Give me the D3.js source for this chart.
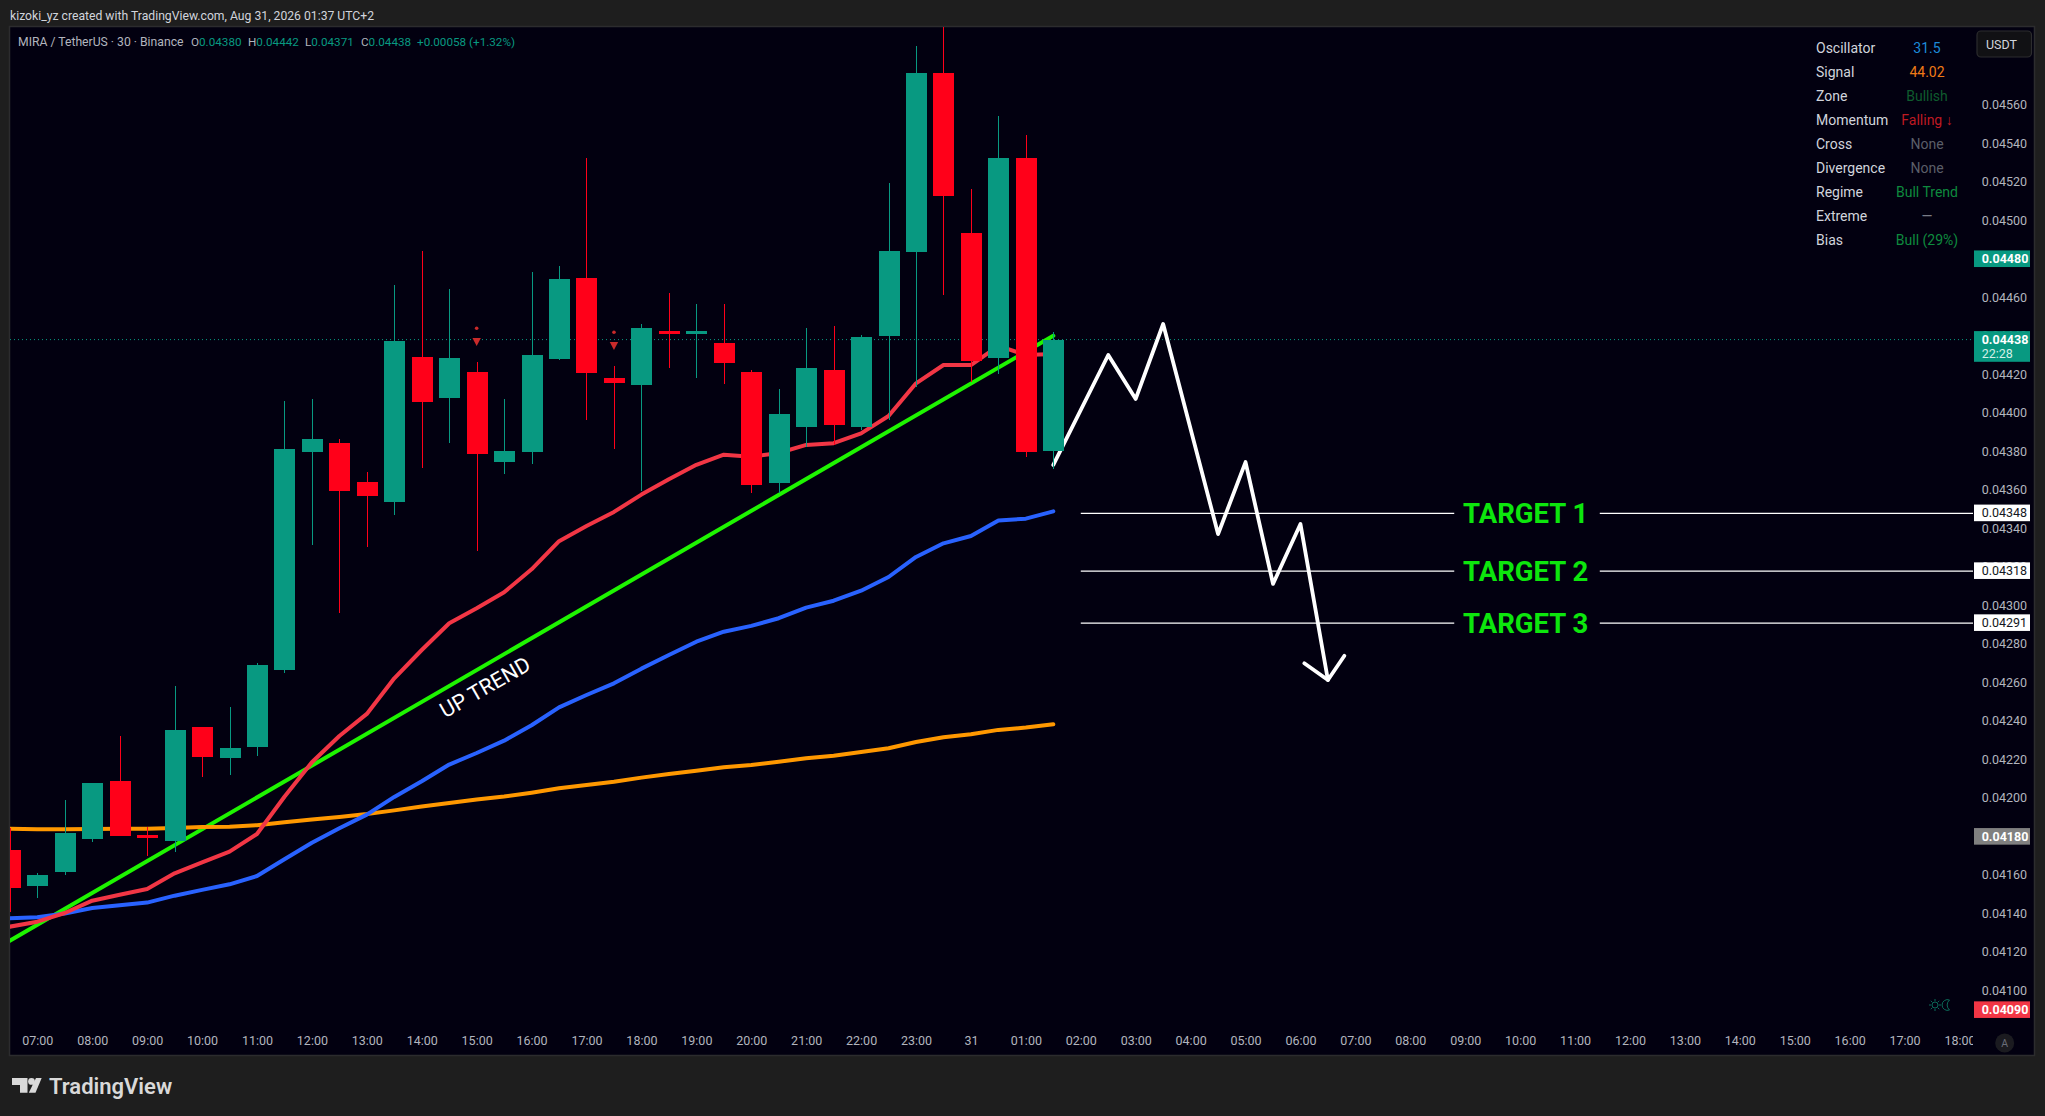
<!DOCTYPE html>
<html>
<head>
<meta charset="utf-8">
<script src="https://cdn.jsdelivr.net/npm/d3@7"></script>
<style>
  html, body { margin: 0; padding: 0; background: #1e1e1e; }
  svg { display: block; }
  text { font-family: Roboto, "Noto Sans", sans-serif; }
</style>
</head>
<body>
<script>
// half hour bars, index 0 = 07:00
const firstBar = -1;
const opens = [0.041729,0.041544,0.041615,0.041786,0.042088,0.041807,0.041776,0.042368,0.042207,0.042264,0.042664,0.043796,0.043843,0.043641,0.043537,0.044290,0.044077,0.044212,0.043744,0.043796,0.044279,0.044700,0.044181,0.044144,0.044425,0.044409,0.044362,0.044212,0.043635,0.043926,0.044222,0.043926,0.044399,0.044835,0.045765,0.044934,0.044285,0.045323,0.04380];
const highs = [0.041844,0.041608,0.041989,0.042077,0.042321,0.041850,0.042581,0.042368,0.042470,0.042701,0.044061,0.044072,0.043864,0.043692,0.044664,0.044840,0.044643,0.044264,0.044072,0.044731,0.044762,0.045323,0.044243,0.044461,0.044622,0.044565,0.044565,0.044222,0.044124,0.044440,0.044451,0.044404,0.045193,0.045905,0.046020,0.045162,0.045541,0.045443,0.04442];
const lows = [0.041409,0.041482,0.041601,0.041772,0.041802,0.041700,0.041721,0.042108,0.042120,0.042219,0.042649,0.043313,0.042960,0.043303,0.043469,0.043713,0.043843,0.043282,0.043682,0.043734,0.044274,0.043963,0.043812,0.043594,0.044233,0.044181,0.044149,0.043583,0.043583,0.043822,0.043833,0.043911,0.043963,0.044134,0.044612,0.044160,0.044201,0.043770,0.04371];
const closes = [0.041534,0.041600,0.041818,0.042077,0.041802,0.041793,0.042353,0.042212,0.042259,0.042690,0.043812,0.043864,0.043594,0.043568,0.044373,0.044056,0.044285,0.043786,0.043802,0.044300,0.044695,0.044207,0.044155,0.044440,0.044409,0.044425,0.044259,0.043625,0.043994,0.044233,0.043937,0.044394,0.044840,0.045765,0.045126,0.044269,0.045323,0.043796,0.04438];

const maFast = [0.041331,0.041357,0.041402,0.041466,0.041497,0.041527,0.041608,0.041665,0.041721,0.041812,0.042006,0.042185,0.042321,0.042436,0.042621,0.042768,0.042907,0.042985,0.043068,0.043187,0.043333,0.043412,0.043485,0.043575,0.043655,0.043730,0.043782,0.043772,0.043791,0.043833,0.043842,0.043893,0.043983,0.044153,0.044248,0.044248,0.044347,0.044300,0.044305];
const maMid = [0.041375,0.041380,0.041399,0.041428,0.041442,0.041456,0.041492,0.041522,0.041551,0.041594,0.041681,0.041767,0.041842,0.041913,0.042005,0.042086,0.042173,0.042233,0.042297,0.042377,0.042470,0.042534,0.042595,0.042671,0.042742,0.042811,0.042863,0.042893,0.042933,0.042988,0.043024,0.043076,0.043147,0.043251,0.043322,0.043360,0.043440,0.043450,0.043488];
const maSlow = [0.041840,0.041837,0.041837,0.041838,0.041839,0.041840,0.041844,0.041849,0.041850,0.041858,0.041873,0.041887,0.041901,0.041916,0.041935,0.041955,0.041973,0.041992,0.042007,0.042027,0.042050,0.042067,0.042084,0.042105,0.042124,0.042141,0.042159,0.042171,0.042188,0.042206,0.042219,0.042238,0.042258,0.042290,0.042315,0.042330,0.042353,0.042365,0.042382];

// drawings, [bar, price]
const trendLine = [[-1, 0.041258], [37, 0.044400]];
const zigzag = [[37,0.043729],[39,0.044300],[40,0.044072],[41,0.044461],[43,0.043370],[44,0.043744],[45,0.043111],[46,0.043422],[47,0.042612]];
const arrowHead = [[46.14,0.042699],[47,0.042612],[47.6,0.042738]];
const targets = [["TARGET 1",0.04348],["TARGET 2",0.04318],["TARGET 3",0.04291]];
const targetStart = 38, targetGapFrom = 51.6, targetGapTo = 56.9, targetLabelBar = 54.2;
const signalBars = [[16,0.044439,0.044367],[21,0.044418,0.044347]];
const upTrendAt = [16.3, 0.042576];

const priceTicks = d3.range(0, 24).map(i => +(0.041 + i * 0.0002).toFixed(4));
const timeBars = d3.range(0, 71, 2);
const timeLabels = ["07:00","08:00","09:00","10:00","11:00","12:00","13:00","14:00","15:00","16:00","17:00","18:00","19:00","20:00","21:00","22:00","23:00","31","01:00","02:00","03:00","04:00","05:00","06:00","07:00","08:00","09:00","10:00","11:00","12:00","13:00","14:00","15:00","16:00","17:00","18:00"];

const tableRows = ["Oscillator","Signal","Zone","Momentum","Cross","Divergence","Regime","Extreme","Bias"];
const tableValues = ["31.5","44.02","Bullish","Falling ↓","None","None","Bull Trend","—","Bull (29%)"];
const tableColors = ["#1c8ad8","#ef7a17","#0f5c2e","#bf1a22","#5b5e68","#5b5e68","#0e8a3e","#787b86","#0e8a3e"];

const priceFlags = [
  [0.0448,"0.04480","#089981","#fff"],
  [0.04348,"0.04348","#fff","#131722"],
  [0.04318,"0.04318","#fff","#131722"],
  [0.04291,"0.04291","#fff","#131722"],
  [0.0418,"0.04180","#808080","#fff"],
  [0.0409,"0.04090","#f23645","#fff"]
];

const width = 2045, height = 1116;
const pane = { left: 10, top: 27, right: 1973, bottom: 1055 };
const up = "#089981", down = "#ff0019", labelColor = "#b2b5be";

const x = d3.scaleLinear().domain([0, 70]).range([37.3, 1959.5]);
const y = d3.scaleLinear().domain([0.0456, 0.041]).range([104.7, 990.4]);
const line = d3.line().x(d => x(d[0])).y(d => y(d[1]));

const svg = d3.select("body").append("svg").attr("width", width).attr("height", height);

svg.append("rect").attr("width", width).attr("height", height).attr("fill", "#1e1e1e");
svg.append("rect").attr("x", 9.5).attr("y", 26.5).attr("width", 2025).attr("height", 1029)
  .attr("fill", "#020010").attr("stroke", "#2c2c2e").attr("stroke-width", 1.5);

svg.append("defs").append("clipPath").attr("id", "pane").append("rect")
  .attr("x", pane.left).attr("y", pane.top)
  .attr("width", pane.right - pane.left).attr("height", pane.bottom - pane.top);

// header
svg.append("text").attr("x", 10).attr("y", 19.5).attr("fill", "#d1d4dc").attr("font-size", 12.2)
  .text("kizoki_yz created with TradingView.com, Aug 31, 2026 01:37 UTC+2");

const plot = svg.append("g").attr("clip-path", "url(#pane)");

// last price line
plot.append("line").attr("x1", pane.left).attr("x2", pane.right)
  .attr("y1", y(closes[closes.length - 1])).attr("y2", y(closes[closes.length - 1]))
  .attr("stroke", up).attr("stroke-width", 1).attr("stroke-dasharray", "1 3");

// target lines
targets.forEach(([name, price]) => {
  [[targetStart, targetGapFrom], [targetGapTo, x.invert(pane.right)]].forEach(seg => {
    plot.append("line").attr("x1", x(seg[0])).attr("x2", x(seg[1]))
      .attr("y1", y(price) + 0.4).attr("y2", y(price) + 0.4)
      .attr("stroke", "#fff").attr("stroke-width", 1.2);
  });
  plot.append("text").attr("x", x(targetLabelBar)).attr("y", y(price)).attr("dy", "0.36em")
    .attr("text-anchor", "middle").attr("fill", "#0de60d")
    .attr("font-family", "Noto Sans").attr("font-weight", 700).attr("font-size", 27.5).text(name);
});

// moving averages and trend line
const maPoints = s => s.map((v, i) => [i + firstBar, v]);
const strokePath = (pts, color, w) => plot.append("path").attr("d", line(pts)).attr("fill", "none")
  .attr("stroke", color).attr("stroke-width", w).attr("stroke-linejoin", "round").attr("stroke-linecap", "round");

strokePath(trendLine, "#1ef400", 4);
strokePath(maPoints(maSlow), "#ff9800", 4);
strokePath(maPoints(maMid), "#2962ff", 4);
strokePath(maPoints(maFast), "#f23645", 4);
strokePath(zigzag, "#fff", 3.8);
strokePath(arrowHead, "#fff", 3.8);

// up trend label
const [utx, uty] = [x(upTrendAt[0]), y(upTrendAt[1])];
plot.append("text").attr("transform", `translate(${utx},${uty}) rotate(-29.8)`)
  .attr("text-anchor", "middle").attr("dy", "0.36em").attr("fill", "#fff")
  .attr("font-family", "Noto Sans").attr("font-size", 21.5).text("UP TREND");

// signal markers
signalBars.forEach(([bar, dot, tri]) => {
  plot.append("circle").attr("cx", x(bar)).attr("cy", y(dot)).attr("r", 1.8).attr("fill", "#c92a2a");
  plot.append("path").attr("transform", `translate(${x(bar)},${y(tri)})`)
    .attr("d", "M-4.2,-4 L4.2,-4 L0,4 Z").attr("fill", "#c92a2a");
});

// candles
const bars = opens.map((o, i) => ({ i: i + firstBar, o, h: highs[i], l: lows[i], c: closes[i] }));
const bodyW = 21;
const candle = plot.append("g").selectAll("g").data(bars).join("g")
  .attr("fill", d => d.c >= d.o ? up : down).attr("shape-rendering", "crispEdges");
candle.append("rect").attr("x", d => Math.round(x(d.i))).attr("width", 1)
  .attr("y", d => y(d.h)).attr("height", d => y(d.l) - y(d.h));
candle.append("rect").attr("x", d => Math.round(x(d.i)) - 10).attr("width", bodyW)
  .attr("y", d => y(Math.max(d.o, d.c))).attr("height", d => Math.max(1, Math.abs(y(d.o) - y(d.c))));

// axes
const priceAxis = svg.append("g").attr("transform", `translate(${1981.7},0)`)
  .call(d3.axisRight(y).tickValues(priceTicks).tickFormat(d3.format(".5f")).tickSize(0).tickPadding(0));
priceAxis.select(".domain").remove();
priceAxis.selectAll("text").attr("fill", labelColor).attr("font-size", 12.5)
  .attr("font-family", "Roboto");

const timeClip = svg.append("g").attr("clip-path", "url(#timeclip)");
svg.select("defs").append("clipPath").attr("id", "timeclip").append("rect")
  .attr("x", pane.left).attr("y", 1028).attr("width", pane.right - pane.left).attr("height", 27);
const timeAxis = timeClip.append("g").attr("transform", "translate(0,1036)")
  .call(d3.axisBottom(x).tickValues(timeBars).tickFormat((d, i) => timeLabels[i]).tickSize(0).tickPadding(0));
timeAxis.select(".domain").remove();
timeAxis.selectAll("text").attr("fill", labelColor).attr("font-size", 12.5).attr("font-family", "Roboto");

// price flags
const flagBox = svg.append("g");
priceFlags.forEach(([p, label, bg, fg]) => {
  flagBox.append("rect").attr("x", 1974).attr("y", y(p) - 8.3).attr("width", 56).attr("height", 16.6).attr("fill", bg);
  flagBox.append("text").attr("x", 1981.7).attr("y", y(p)).attr("dy", "0.36em").attr("fill", fg)
    .attr("font-size", 12.5).attr("font-weight", bg === "#fff" ? 400 : 700).text(label);
});
const last = closes[closes.length - 1];
flagBox.append("rect").attr("x", 1974).attr("y", y(last) - 8.5).attr("width", 56).attr("height", 30.7).attr("fill", up);
flagBox.append("text").attr("x", 1981.7).attr("y", y(last)).attr("dy", "0.36em").attr("fill", "#fff")
  .attr("font-size", 12.5).attr("font-weight", 700).text("0.04438");
flagBox.append("text").attr("x", 1981.7).attr("y", y(last) + 14).attr("dy", "0.36em").attr("fill", "#d4f0e8")
  .attr("font-size", 12.5).text("22:28");

// legend line
const legend = svg.append("g").attr("font-size", 11.7);
legend.append("text").attr("x", 18).attr("y", 46.2).attr("fill", labelColor).attr("font-size", 12.2).text("MIRA / TetherUS · 30 · Binance");
[["O","0.04380",191],["H","0.04442",248],["L","0.04371",305],["C","0.04438",361]].forEach(([k, v, px]) => {
  const t = legend.append("text").attr("x", px).attr("y", 46.2).attr("fill", labelColor);
  t.append("tspan").text(k);
  t.append("tspan").attr("fill", up).text(v);
});
legend.append("text").attr("x", 417).attr("y", 46.2).attr("fill", up).text("+0.00058 (+1.32%)");

// status table
tableRows.forEach((name, i) => {
  const ry = 48.3 + i * 24;
  svg.append("text").attr("x", 1816).attr("y", ry).attr("dy", "0.36em").attr("fill", "#d1d4dc")
    .attr("font-size", 14).text(name);
  svg.append("text").attr("x", 1927).attr("y", ry).attr("dy", "0.36em").attr("text-anchor", "middle")
    .attr("fill", tableColors[i]).attr("font-size", 14).text(tableValues[i]);
});

// currency button
svg.append("rect").attr("x", 1977).attr("y", 31).attr("width", 54.5).attr("height", 26).attr("rx", 4)
  .attr("fill", "#111114").attr("stroke", "#2c2c2e").attr("stroke-width", 1.2);
svg.append("text").attr("x", 1986).attr("y", 44.5).attr("dy", "0.36em").attr("fill", "#d1d4dc")
  .attr("font-size", 12.5).text("USDT");

// auto scale button
svg.append("circle").attr("cx", 2004.7).attr("cy", 1043).attr("r", 9.5).attr("fill", "#1b1b20");
svg.append("text").attr("x", 2004.7).attr("y", 1043).attr("dy", "0.36em").attr("text-anchor", "middle")
  .attr("fill", "#6a6d78").attr("font-size", 10.5).text("A");

// sun and moon icon
const icon = svg.append("g").attr("transform", "translate(1935,1005)").attr("fill", "none")
  .attr("stroke", "#0b6a58").attr("stroke-width", 1);
icon.append("circle").attr("r", 3);
d3.range(8).forEach(k => {
  const a = k * Math.PI / 4;
  icon.append("line").attr("x1", 3.8 * Math.cos(a)).attr("y1", 3.8 * Math.sin(a))
    .attr("x2", 6 * Math.cos(a)).attr("y2", 6 * Math.sin(a));
});
icon.append("path").attr("d", "M14.5,-5 A5.4,5.4 0 1 0 14.5,5 A6.5,6.5 0 0 1 14.5,-5 Z");

// logo
const logo = svg.append("g").attr("fill", "#d9d9d9");
logo.append("path").attr("d", "M12,1078 H27.5 V1092.7 H20 V1085 H12 Z");
logo.append("circle").attr("cx", 31.5).attr("cy", 1081.4).attr("r", 3.4);
logo.append("path").attr("d", "M36,1078 H41.7 L35.5,1092.7 H28.8 Z");
svg.append("text").attr("x", 49).attr("y", 1094).attr("fill", "#d9d9d9")
  .attr("font-family", "Inter").attr("font-weight", 600).attr("font-size", 22).text("TradingView");
</script>
</body>
</html>
